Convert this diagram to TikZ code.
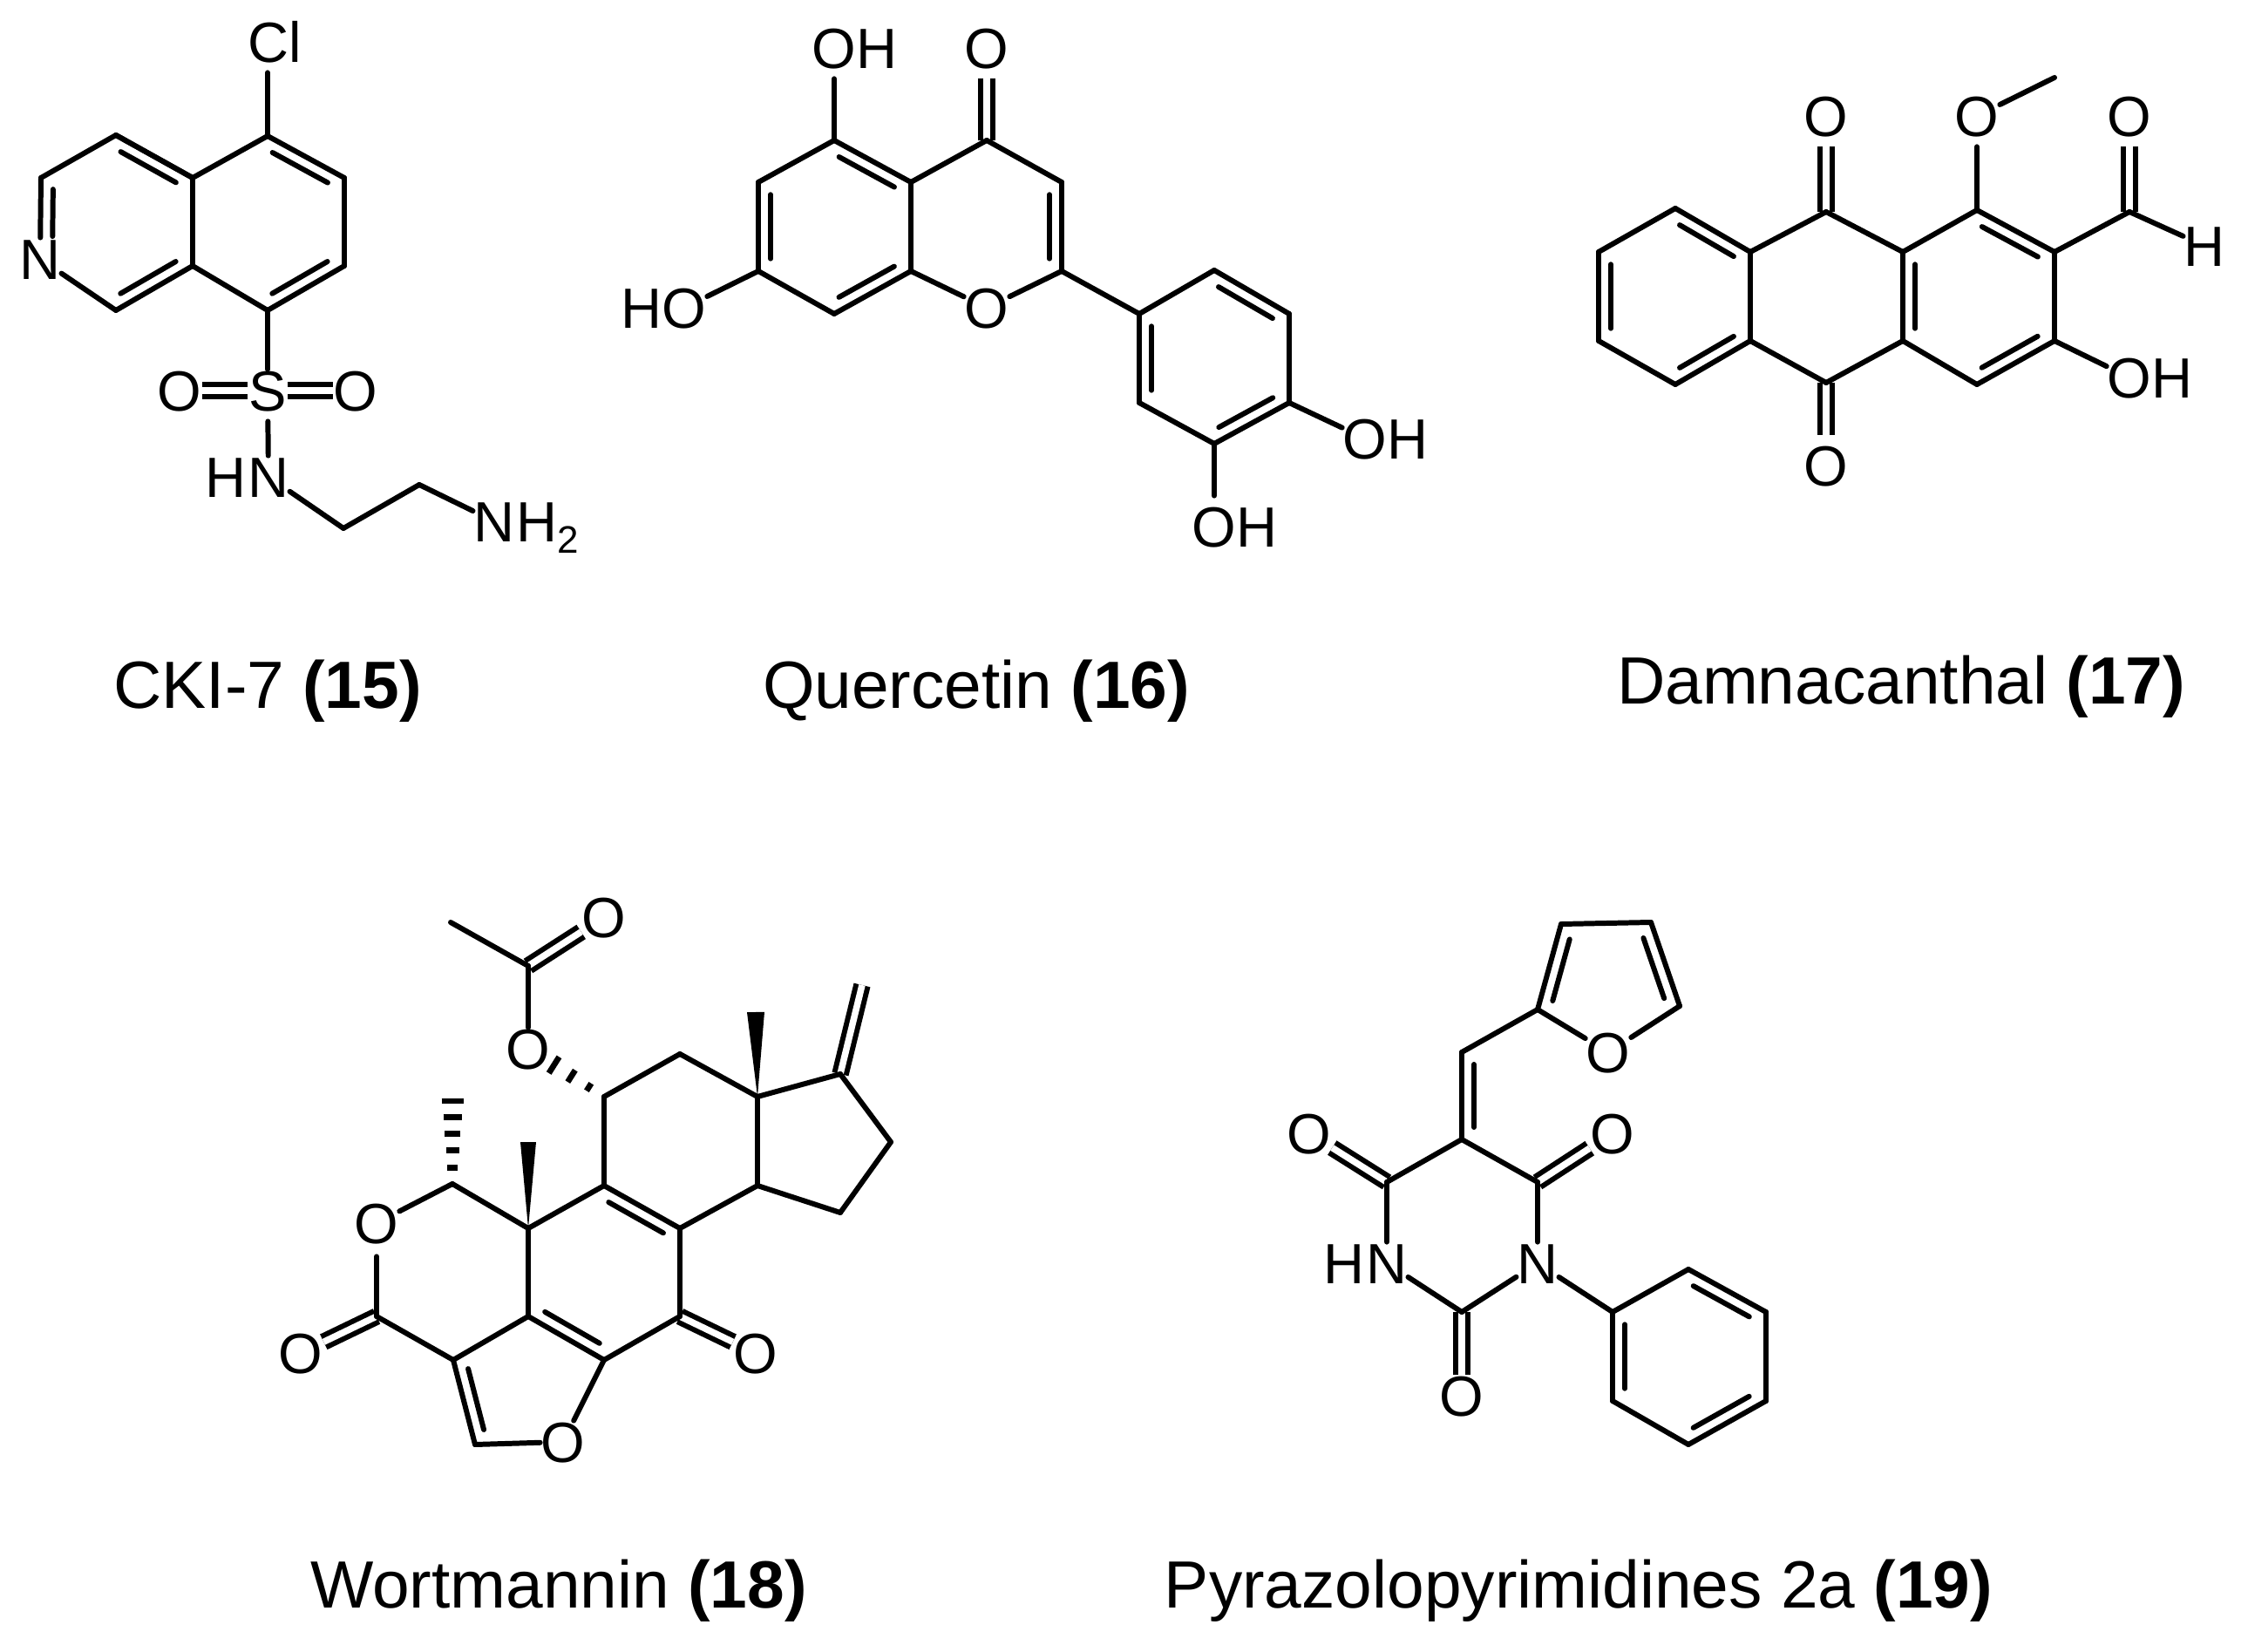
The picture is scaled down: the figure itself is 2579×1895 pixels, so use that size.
\documentclass[tikz,border=0pt]{standalone}
\usepackage{fontspec}
\setmainfont{Liberation Sans}
\usetikzlibrary{calc}
\tikzset{
  x=0.01cm,
  y=-0.01cm,
  node distance=0.49cm,
  bond/.style={line width=1.7pt, line cap=round},
  dblbond/.style={line width=1.7pt, double, double distance=0.075cm},
  hashbar/.style={line width=1.9pt},
  atom/.style={rectangle, inner sep=0.01cm, outer sep=0pt, text height=13.3pt, text depth=0pt, font=\fontsize{18.5}{20}\selectfont},
  tall atom/.style={atom, inner ysep=0.12cm},
  subatom/.style={inner sep=0pt, font=\fontsize{12.5}{14}\selectfont},
  caption/.style={inner sep=0pt, font=\fontsize{21.8}{24}\selectfont},
}
% ring double bond, the short line lies to the right of the way a -> b
\newcommand{\dbond}[3][.14]{
  \draw[bond] (#2) -- (#3);
  \draw[bond] ($(#2)!#1!(#3)!0.14cm!-90:(#3)$) -- ($(#2)!.86!(#3)!0.14cm!-90:(#3)$);
}
\newcommand{\wedgebond}[3]{
  \fill (#1) -- ($(#2)!#3!90:(#1)$) -- ($(#2)!#3!-90:(#1)$) -- cycle;
}
\newcommand{\hashbond}[3]{
  \foreach \t/\w in {#3}
    \draw[hashbar] ($(#1)!\t!(#2)!\w cm!90:(#2)$) -- ($(#1)!\t!(#2)!\w cm!-90:(#2)$);
}

\begin{document}
\begin{tikzpicture}
  \useasboundingbox (0,0) rectangle (2579,1895);

  % CKI-7
  \foreach \n/\x/\y in {k1/307/156, k2/395/204, k3/395/305, k4/307/356, k5/221/305, k6/221/204,
                        k7/133/155, k8/47/204, k9/133/356, k10/394/606, k11/481/556}
    \coordinate (\n) at (\x,\y);
  \node[tall atom] (kcl) at (315,48) {Cl};
  \node[atom] (kn) at (46,297) {N};
  \node[atom] (ks) at (307,448) {S};
  \node[atom] (ko1) at (206,448) {O};
  \node[atom] (ko2) at (408,448) {O};
  \node[atom] (knh) at (308,547) {N};
  \node[atom, left of=knh] (knhh) {H};
  \node[atom] (kn2) at (567,598) {N};
  \node[atom, right of=kn2] (kn2h) {H};
  \node[subatom] (kn2s) at (652,619) {2};
  \foreach \a/\b in {ks/ko1, ks/ko2}
    \draw[dblbond] (\a) -- (\b);
  \foreach \a/\b in {k1/k6, k6/k7, k8/k7, k2/k3, k4/k5, k5/k6, k9/kn, k4/ks, knh/k10, k10/k11, k11/kn2}
    \draw[bond] (\a) -- (\b);
  \draw[bond] (k1) -- (k1 |- kcl.south);
  \draw[bond, shorten <=0.11cm] (ks) -- (knh);
  \foreach \a/\b in {k7/k6, k5/k9, k1/k2, k3/k4}
    {\dbond{\a}{\b}}
  \dbond[.28]{kn}{k8}

  % Quercetin
  \foreach \n/\x/\y in {q1/957/161, q2/1045/209, q3/1045/311, q4/957/360, q5/870/311, q6/870/209,
                        q7/1132/161, q8/1218/209, q9/1218/311, q10/1393/310, q11/1479/360,
                        q12/1479/462, q13/1393/509, q14/1307/462, q15/1307/360}
    \coordinate (\n) at (\x,\y);
  \node[tall atom] (qo1) at (957,55) {O};
  \node[atom, right of=qo1] (qo1h) {H};
  \node[tall atom] (qo2) at (1132,55) {O};
  \node[atom] (qo3) at (1132,353) {O};
  \node[atom] (qo4) at (785,353) {O};
  \node[atom, left of=qo4] (qo4h) {H};
  \node[atom] (qo5) at (1566,503) {O};
  \node[atom, right of=qo5] (qo5h) {H};
  \node[tall atom] (qo6) at (1393,604) {O};
  \node[atom, right of=qo6] (qo6h) {H};
  \draw[dblbond] (q7) -- (qo2);
  \foreach \a/\b in {q1/qo1, q1/q6, q2/q3, q2/q7, q7/q8, q9/qo3, qo3/q3, q4/q5, q5/qo4, q9/q15,
                     q15/q10, q11/q12, q13/q14, q12/qo5, q13/qo6}
    \draw[bond] (\a) -- (\b);
  \foreach \a/\b in {q1/q2, q3/q4, q5/q6, q8/q9, q10/q11, q12/q13, q14/q15}
    {\dbond{\a}{\b}}

  % Damnacanthal
  \foreach \n/\x/\y in {d1/1922/239, d2/2008/289, d3/2008/391, d4/1922/441, d5/1834/391, d6/1834/289,
                        d7/2095/243, d8/2183/289, d9/2183/391, d10/2095/439,
                        d11/2268/241, d12/2357/289, d13/2357/391, d14/2268/441, d15/2443/243, d16/2357/89}
    \coordinate (\n) at (\x,\y);
  \node[tall atom] (do1) at (2095,133) {O};
  \node[tall atom] (do2) at (2268,133) {O};
  \node[tall atom] (do3) at (2443,133) {O};
  \node[tall atom] (do4) at (2095,534) {O};
  \node[atom] (do5) at (2443,433) {O};
  \node[atom, right of=do5] (do5h) {H};
  \node[atom] (dh) at (2529,282) {H};
  \foreach \a/\b in {d7/do1, d10/do4, d15/do3}
    \draw[dblbond] (\a) -- (\b);
  \foreach \a/\b in {d2/d3, d4/d5, d6/d1, d2/d7, d7/d8, d9/d10, d10/d3, d8/d11, d12/d13, d14/d9,
                     d11/do2, do2/d16, d12/d15, d15/dh, d13/do5}
    \draw[bond] (\a) -- (\b);
  \foreach \a/\b in {d1/d2, d3/d4, d5/d6, d9/d8, d11/d12, d13/d14}
    {\dbond{\a}{\b}}

  % Wortmannin
  \foreach \n/\x/\y in {w1/693/1258, w2/780/1209, w3/869/1258, w4/869/1360, w5/780/1409, w6/693/1360,
                        w7/606/1409, w8/519/1358, w9/432/1510, w10/520/1560, w11/606/1510, w12/693/1560,
                        w13/780/1510, w14/545/1657, w15/964/1232, w16/1022/1310, w17/964/1391,
                        w18/606/1108, w19/517/1058, w20/989/1130, w21/867/1161, w22/606/1310, w23/519/1262}
    \coordinate (\n) at (\x,\y);
  \node[atom] (wo1) at (693,1052) {O};
  \node[atom] (wo2) at (606,1203) {O};
  \node[atom] (wo3) at (432,1403) {O};
  \node[atom] (wo4) at (345,1552) {O};
  \node[atom] (wo5) at (867,1552) {O};
  \node[atom] (wo6) at (646,1654) {O};
  \foreach \a/\b in {w18/wo1, w9/wo4, w13/wo5, w15/w20}
    \draw[dblbond] (\a) -- (\b);
  \foreach \a/\b in {w1/w2, w2/w3, w3/w4, w4/w5, w6/w1, w6/w7, w7/w11, w5/w13, w13/w12, w11/w10,
                     w10/w9, wo3/w8, w8/w7, w12/wo6, wo6/w14, w3/w15, w15/w16, w16/w17, w17/w4,
                     wo2/w18, w18/w19}
    \draw[bond] (\a) -- (\b);
  \draw[bond, shorten <=0.14cm] (wo3) -- (w9);
  \foreach \a/\b in {w6/w5, w12/w11, w14/w10}
    {\dbond{\a}{\b}}
  \wedgebond{w3}{w21}{0.1cm}
  \wedgebond{w7}{w22}{0.09cm}
  \hashbond{w8}{w23}{.19/.06, .4/.075, .6/.09, .8/.105, .99/.125}
  \hashbond{w1}{wo2}{.2/.05, .43/.08, .66/.11}

  % Pyrazolopyrimidines
  \foreach \n/\x/\y in {p1/1764/1158, p2/1791/1060, p3/1894/1058, p4/1927/1154, p5/1677/1207,
                        p6/1677/1307, p7/1591/1356, p8/1764/1356, p9/1677/1505,
                        p10/1850/1505, p11/1937/1456, p12/2026/1505, p13/2026/1607, p14/1937/1657, p15/1850/1607}
    \coordinate (\n) at (\x,\y);
  \node[atom] (po1) at (1845,1207) {O};
  \node[atom] (po2) at (1502,1300) {O};
  \node[atom] (po3) at (1850,1300) {O};
  \node[atom] (po4) at (1677,1601) {O};
  \node[atom] (pn1) at (1591,1449) {N};
  \node[atom, left of=pn1] (pn1h) {H};
  \node[atom] (pn2) at (1764,1449) {N};
  \foreach \a/\b in {p7/po2, p8/po3, p9/po4}
    \draw[dblbond] (\a) -- (\b);
  \foreach \a/\b in {p5/p1, p1/po1, po1/p4, p2/p3, p6/p7, p6/p8, p7/pn1, pn1/p9, p9/pn2, pn2/p8,
                     pn2/p10, p10/p11, p12/p13, p14/p15}
    \draw[bond] (\a) -- (\b);
  \foreach \a/\b in {p1/p2, p3/p4, p6/p5, p11/p12, p13/p14, p15/p10}
    {\dbond{\a}{\b}}

  % names
  \node[caption] (cap15) at (307,793) {CKI-7 \textbf{(15)}};
  \node[caption] (cap16) at (1120,793) {Quercetin \textbf{(16)}};
  \node[caption] (cap17) at (2181,788) {Damnacanthal \textbf{(17)}};
  \node[caption] (cap18) at (641,1825) {Wortmannin \textbf{(18)}};
  \node[caption] (cap19) at (1811,1825) {Pyrazolopyrimidines 2a \textbf{(19)}};
\end{tikzpicture}
\end{document}
